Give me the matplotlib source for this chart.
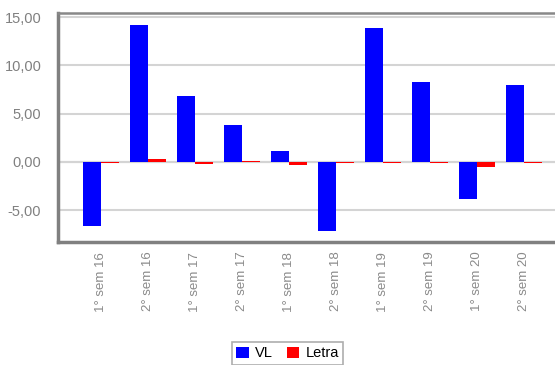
import numpy as np
import matplotlib
matplotlib.use("Agg")
import matplotlib.pyplot as plt
from matplotlib.ticker import FuncFormatter

periods = ["1° sem 16", "2° sem 16", "1° sem 17", "2° sem 17", "1° sem 18",
           "2° sem 18", "1° sem 19", "2° sem 19", "1° sem 20", "2° sem 20"]
vl    = [-6.67, 14.20, 6.80, 3.80, 1.13, -7.20, 13.90, 8.25, -3.80, 7.95]
letra = [-0.10, 0.30, -0.20, 0.10, -0.30, -0.10, -0.10, -0.10, -0.50, -0.10]

plt.rcParams["font.family"] = ["Liberation Sans", "DejaVu Sans"]

fig = plt.figure(figsize=(5.55, 3.65), dpi=100)
ax = fig.add_axes([0.1045, 0.337, 0.917, 0.627])

x = np.arange(len(periods))
w = 0.383
ax.bar(x - w/2, vl, w, color="#0000ff", label="VL", zorder=3)
ax.bar(x + w/2, letra, w, color="#ff0000", label="Letra", zorder=3)

ax.set_xlim(-0.915, len(periods) - 1 + 0.915)
ax.set_ylim(-8.3, 15.4)
ax.set_yticks([-5, 0, 5, 10, 15])
ax.yaxis.set_major_formatter(FuncFormatter(lambda v, p: f"{v:.2f}".replace(".", ",")))
ax.grid(axis="y", color="#d4d4d4", linewidth=1.5, zorder=0)
ax.axhline(0, color="#c8c8c8", linewidth=1.5, zorder=1)

ax.set_xticks(x)
ax.set_xticklabels(periods, rotation=90, color="#8a8a8a", fontsize=9.5)
ax.tick_params(axis="x", length=0, pad=7)
ax.tick_params(axis="y", length=0, pad=12, labelcolor="#808080", labelsize=10.5)

for side in ("left", "bottom"):
    ax.spines[side].set_color("#808080")
    ax.spines[side].set_linewidth(2.5)
ax.spines["top"].set_color("#888888")
ax.spines["top"].set_linewidth(1.8)
ax.spines["right"].set_visible(False)

leg = fig.legend(loc="upper left", bbox_to_anchor=(232/555, 1 - 342/365), ncol=2,
                 frameon=True, fancybox=False, fontsize=10.5, handlelength=0.85,
                 handleheight=0.85, handletextpad=0.4, columnspacing=1.0,
                 borderpad=0.3, borderaxespad=0)
leg.get_frame().set_edgecolor("#999999")
leg.get_frame().set_linewidth(1.2)

fig.savefig("out.png", dpi=100)
